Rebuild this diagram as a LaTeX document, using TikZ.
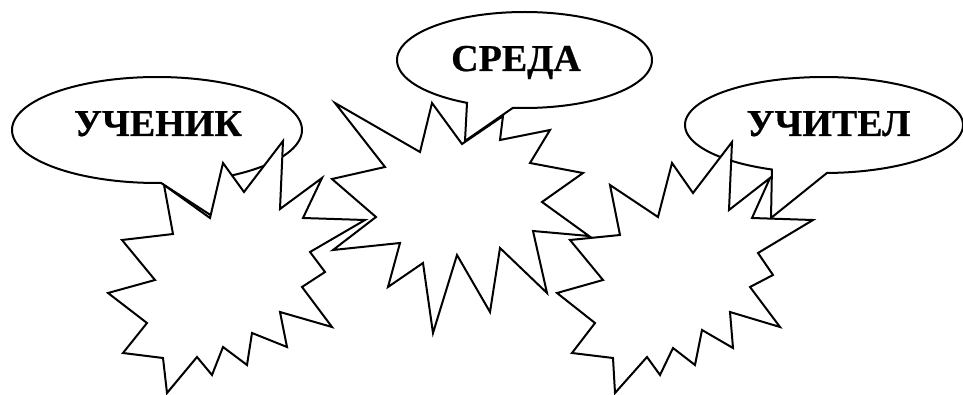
\documentclass[tikz,border=0pt]{standalone}
\usepackage{fontspec}
\setmainfont{Liberation Serif}[BoldFeatures={FakeBold=0.6}]
\begin{document}
\begin{tikzpicture}[x=1pt,y=-1pt,
  outl/.style={draw=black,line width=2pt,fill=white,line join=miter,miter limit=20},
  lbl/.style={font=\fontsize{38}{38}\bfseries\selectfont,inner sep=0pt,anchor=base}]
\useasboundingbox (0,0) rectangle (963,395);
% callouts
\draw[outl] (212,216) -- plot[domain=58.9:-271.6,samples=160] ({157+145*cos(\x)},{130+53*sin(\x)}) -- cycle;
\draw[outl] (465,141) -- plot[domain=95.2:-243.2,samples=160] ({524.5+127.5*cos(\x)},{60+48*sin(\x)}) -- cycle;
\draw[outl] (771,218) -- plot[domain=88.8:-248,samples=160] ({824+139*cos(\x)},{125+48*sin(\x)}) -- cycle;
\node[lbl] (t1) at (158,136) {УЧЕНИК};
\node[lbl] (t2) at (516,71) {СРЕДА};
\node[lbl] (t3) at (828.5,136) {УЧИТЕЛ};
% left star
\draw[outl] (164,185) -- (173,234) -- (122,240) -- (155,280) -- (108,293) -- (147,323)
  -- (123,353) -- (163,358) -- (167,393) -- (197,357) -- (212,375) -- (223,347)
  -- (247,365) -- (252,333) -- (287,347) -- (280,312) -- (332,327) -- (302,287)
  -- (325,272) -- (310,252) -- (365,220) -- (303,218) -- (322,178) -- (280,209)
  -- (283,141) -- (244,192) -- (223,163) -- (210,218) -- cycle;
% middle star
\draw[outl] (335,103) -- (420,152) -- (432,103) -- (462,144) -- (503,116) -- (500,140)
  -- (550,130) -- (530,163) -- (583,173) -- (542,202) -- (589,236) -- (533,231)
  -- (547,293) -- (500,248) -- (490,312) -- (457,255) -- (433,333) -- (423,263)
  -- (388,287) -- (400,243) -- (333,250) -- (376,217) -- (332,179) -- (385,167) -- cycle;
% right star
\draw[outl] (732,142) -- (729,210) -- (770,178) -- (752,218) -- (813,220) -- (758,253)
  -- (773,275) -- (750,287) -- (780,327) -- (730,312) -- (733,348) -- (702,330)
  -- (695,365) -- (673,348) -- (660,375) -- (647,357) -- (615,393) -- (613,358)
  -- (572,353) -- (595,323) -- (557,293) -- (603,280) -- (570,240) -- (620,235)
  -- (610,185) -- (658,217) -- (672,163) -- (693,193) -- cycle;
\end{tikzpicture}
\end{document}
